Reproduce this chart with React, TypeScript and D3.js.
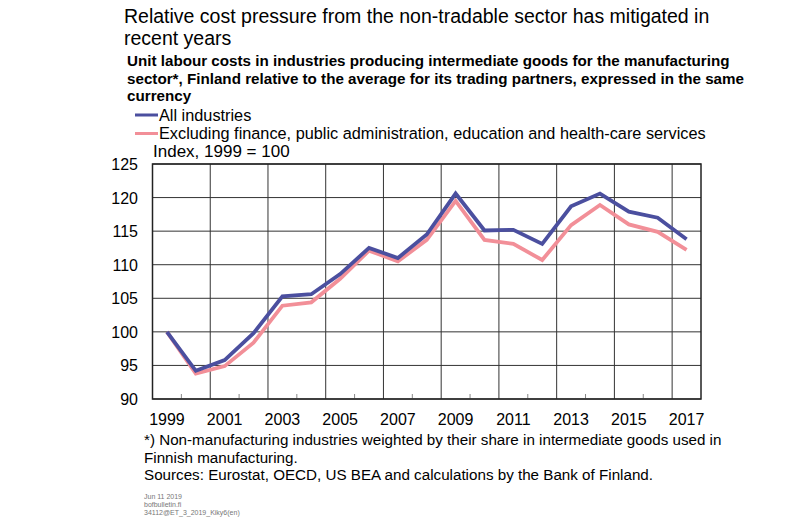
import React from "react";
import * as d3 from "d3";

const years = d3.range(1999, 2018);
const allIndustries = [100, 94.2, 95.8, 99.8, 105.3, 105.6, 108.6, 112.5, 111.0, 114.5, 120.6, 115.1, 115.2, 113.1, 118.7, 120.6, 117.9, 117.0, 113.8];
const excluding = [100, 93.8, 94.9, 98.4, 103.9, 104.4, 107.9, 112.1, 110.5, 113.7, 119.5, 113.7, 113.1, 110.7, 115.9, 118.9, 116.0, 114.9, 112.2];
const yTicks = [90, 95, 100, 105, 110, 115, 120, 125];
const xLabelYears = years.filter((y) => y % 2 === 1);
const seriesNames = ["All industries", "Excluding finance, public administration, education and health-care services"];
const colors = ["#4b4f9f", "#f28f98"];

export default function App() {
  const W = 800, H = 523;
  const left = 152.5, right = 701, top = 164, bottom = 399;
  const x = d3.scaleBand<number>().domain(years).range([left, right]);
  const y = d3.scaleLinear().domain([90, 125]).range([bottom, top]);
  const cx = (yr: number) => (x(yr) as number) + x.bandwidth() / 2;
  const line = d3.line<number>().x((_, i) => cx(years[i])).y((v) => y(v));
  const font = "Arial, 'Liberation Sans', sans-serif";
  const boundaries = years.slice(1).map((yr) => x(yr) as number);
  return (
    <svg width={W} height={H} style={{ position: "absolute", left: 0, top: 0, fontFamily: font }}>
      <rect width={W} height={H} fill="#fff" />
      <text x={124} y={23} fontSize={19.5}>Relative cost pressure from the non-tradable sector has mitigated in</text>
      <text x={124} y={45} fontSize={19.5}>recent years</text>
      <g fontSize={15.2} fontWeight="bold">
        <text x={127} y={66}>Unit labour costs in industries producing intermediate goods for the manufacturing</text>
        <text x={127} y={83.5}>sector*, Finland relative to the average for its trading partners, expressed in the same</text>
        <text x={127} y={101}>currency</text>
      </g>
      {seriesNames.map((n, i) => (
        <g key={n}>
          <line x1={135} x2={158} y1={115 + i * 18.5} y2={115 + i * 18.5} stroke={colors[i]} strokeWidth={3} />
          <text x={159} y={120.5 + i * 18.5} fontSize={16.3}>{n}</text>
        </g>
      ))}
      <text x={153} y={157} fontSize={17}>Index, 1999 = 100</text>
      {yTicks.map((t) => (
        <g key={t}>
          <line x1={left} x2={right} y1={y(t)} y2={y(t)} stroke="#333" strokeWidth={1} />
          <text x={138} y={y(t) + 6} fontSize={16} textAnchor="end">{t}</text>
        </g>
      ))}
      {boundaries.map((b, i) => (
        i % 2 === 1 ? (
          <line key={b} x1={b} x2={b} y1={top} y2={bottom} stroke="#333" strokeWidth={1} />
        ) : (
          <line key={b} x1={b} x2={b} y1={bottom - 5} y2={bottom} stroke="#888" strokeWidth={1} />
        )
      ))}
      <rect x={left} y={top} width={right - left} height={bottom - top} fill="none" stroke="#222" strokeWidth={1.5} />
      <path d={line(excluding) || ""} fill="none" stroke={colors[1]} strokeWidth={3.8} strokeLinejoin="miter" />
      <path d={line(allIndustries) || ""} fill="none" stroke={colors[0]} strokeWidth={3.8} strokeLinejoin="miter" />
      {xLabelYears.map((yr) => (
        <text key={yr} x={cx(yr)} y={425} fontSize={16} textAnchor="middle">{yr}</text>
      ))}
      <g fontSize={15.2}>
        <text x={144} y={445}>*) Non-manufacturing industries weighted by their share in intermediate goods used in</text>
        <text x={144} y={462.5}>Finnish manufacturing.</text>
        <text x={144} y={480}>Sources: Eurostat, OECD, US BEA and calculations by the Bank of Finland.</text>
      </g>
      <g fontSize={7} fill="#777">
        <text x={144} y={499}>Jun 11 2019</text>
        <text x={144} y={507}>bofbulletin.fi</text>
        <text x={144} y={515}>34112@ET_3_2019_Kiky6(en)</text>
      </g>
    </svg>
  );
}
